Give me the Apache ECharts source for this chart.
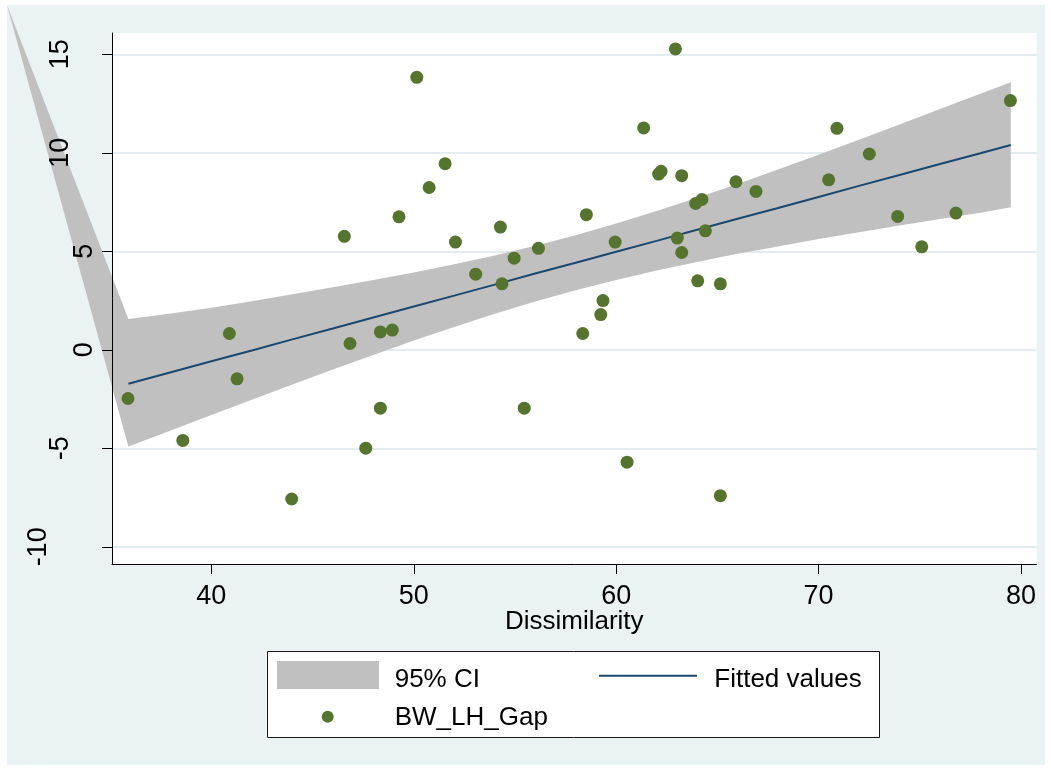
<!DOCTYPE html>
<html>
<head>
<meta charset="utf-8">
<script src="https://cdn.jsdelivr.net/npm/echarts@6.0.0/dist/echarts.min.js"></script>
<style>
  html, body { margin: 0; padding: 0; background: #fff; }
  #chart { width: 1051px; height: 770px; }
</style>
</head>
<body>
<div id="chart"></div>
<script>
// Observations: dissimilarity index vs. BW_LH_Gap
const dissimilarity = [
  50.15, 51.55, 50.76, 49.27, 46.57, 52.06, 54.28, 56.16, 54.96, 53.06,
  54.36, 62.93, 61.36, 70.91, 79.48, 72.51, 62.10, 62.22, 63.24, 58.53,
  59.95, 65.92, 66.91, 70.50, 63.93, 64.24, 63.02, 64.41, 63.24, 73.91,
  76.79, 75.10, 64.03, 65.15, 35.88, 40.89, 41.27, 38.59, 43.97, 46.85,
  48.35, 48.94, 48.35, 47.63, 55.46, 59.35, 59.24, 58.35, 60.54, 65.15
];
const bwLhGap = [
  13.83, 9.45, 8.24, 6.75, 5.76, 5.47, 6.23, 5.15, 4.65, 3.84,
  3.35, 15.27, 11.26, 11.24, 12.65, 9.94, 8.92, 9.06, 8.84, 6.86,
  5.47, 8.53, 8.04, 8.63, 7.43, 7.63, 5.67, 6.04, 4.94, 6.77,
  6.94, 5.23, 3.50, 3.35, -2.47, 0.83, -1.47, -4.60, -7.57, 0.32,
  0.91, 1.00, -2.96, -4.99, -2.96, 2.50, 1.79, 0.83, -5.70, -7.40
];

// Linear fit and its 95% confidence band, evaluated along the x range
const fitX = [35.9, 38, 40, 42, 44, 46, 48, 50, 52, 54, 56, 58, 60, 62, 64, 66, 68, 70, 72, 74, 76, 78, 79.5];
const fitted = [-1.72, -1.14, -0.58, -0.03, 0.53, 1.08, 1.64, 2.20, 2.75, 3.31, 3.87, 4.42, 4.98, 5.53, 6.09, 6.65, 7.20, 7.76, 8.32, 8.87, 9.43, 9.98, 10.40];
const ciUpper = [1.56, 1.84, 2.14, 2.47, 2.82, 3.17, 3.54, 3.93, 4.34, 4.79, 5.28, 5.82, 6.41, 7.04, 7.72, 8.42, 9.15, 9.90, 10.66, 11.44, 12.22, 13.00, 13.58];
const ciLower = [-4.91, -4.09, -3.31, -2.53, -1.76, -1.00, -0.26, 0.47, 1.16, 1.83, 2.45, 3.02, 3.55, 4.02, 4.46, 4.87, 5.25, 5.62, 5.97, 6.31, 6.64, 6.96, 7.23];
// stray vertex of the shaded band polygon, out past the left end of the range
const bandApex = [29.9, 17.5];

const xTicks = [40, 50, 60, 70, 80];
const yTicks = [-10, -5, 0, 5, 10, 15];

const FONT = "'Liberation Sans', Arial, Helvetica, sans-serif";
const FS = 26;      // axis title and legend text
const FS_TICK = 27; // tick labels
const X_MIN = 35.09, X_MAX = 80.77, Y_MIN = -10.87, Y_MAX = 16.08;

const scatterData = dissimilarity.map((x, i) => [x, bwLhGap[i]]);
const fitData = fitX.map((x, i) => [x, fitted[i]]);

// y labels are placed in three groups by string length
function labelsOfLength(n) {
  return yTicks.filter(v => String(v).length === n);
}
function labelAxis(n, margin, withLine) {
  return {
    type: 'value', position: 'left', offset: 0, min: Y_MIN, max: Y_MAX, z: 6,
    axisLine: { show: withLine, lineStyle: { color: '#000', width: 1 } },
    axisTick: { show: withLine, length: 10, lineStyle: { color: '#000', width: 1 }, customValues: yTicks },
    axisLabel: {
      show: true, rotate: 90, margin: margin, customValues: labelsOfLength(n),
      color: '#000', fontSize: FS_TICK, fontFamily: FONT
    },
    splitLine: { show: false }
  };
}

// legend keys and legend texts are laid out separately inside the key box
function legendKey(name, icon, left, top, w, h, color) {
  const item = { name: name, icon: icon };
  const opt = {
    data: [item], left: left, top: top, padding: 0, itemWidth: w, itemHeight: h,
    selectedMode: false, z: 5, formatter: function () { return ''; },
    textStyle: { fontSize: 1, lineHeight: 1 }
  };
  if (color) opt.itemStyle = { color: color };
  return opt;
}
function legendText(name, left, top) {
  return {
    data: [{ name: name, icon: 'none' }], left: left, top: top, padding: 0,
    itemWidth: 1, itemHeight: 2, selectedMode: false, z: 5,
    textStyle: { color: '#000', fontSize: FS, fontFamily: FONT, lineHeight: 26 }
  };
}

const chart = echarts.init(document.getElementById('chart'), null, { renderer: 'canvas' });
chart.setOption({
  animation: false,
  backgroundColor: '#fff',
  graphic: {
    elements: [
      { type: 'rect', z: -10, silent: true,
        shape: { x: 7, y: 5, width: 1038, height: 760 },
        style: { fill: '#eaf2f3' } },
      { type: 'rect', z: 1, silent: true,
        shape: { x: 267.5, y: 651.5, width: 612, height: 86 },
        style: { fill: '#fff', stroke: '#1a1a1a', lineWidth: 1 } }
    ]
  },
  grid: {
    left: 112, top: 33, width: 924.5, height: 531,
    show: true, backgroundColor: '#fff', borderWidth: 0,
    containLabel: false, outerBoundsMode: 'none'
  },
  xAxis: {
    type: 'value', min: X_MIN, max: X_MAX, z: 6,
    axisLine: { show: true, onZero: false, lineStyle: { color: '#000', width: 1 } },
    axisTick: { show: true, length: 10, lineStyle: { color: '#000', width: 1 }, customValues: xTicks },
    axisLabel: { customValues: xTicks, margin: 19, color: '#000', fontSize: FS_TICK, fontFamily: FONT },
    splitLine: { show: false },
    name: 'Dissimilarity', nameLocation: 'middle', nameGap: 45, nameMoveOverlap: false,
    nameTextStyle: { color: '#000', fontSize: FS, fontFamily: FONT }
  },
  yAxis: [
    {
      // grid lines only, kept beneath the shaded band
      type: 'value', position: 'left', min: Y_MIN, max: Y_MAX, z: 0,
      axisLine: { show: false },
      axisTick: { show: false, customValues: yTicks },
      axisLabel: { show: false, customValues: yTicks },
      splitLine: { show: true, lineStyle: { color: '#e3edf0', width: 2 } }
    },
    labelAxis(1, 14, true),
    labelAxis(2, 38, false),
    labelAxis(3, 60, false)
  ],
  legend: [
    legendKey('95% CI', 'rect', 277, 661, 102, 28),
    legendKey('Fitted values', 'path://M0,0H100V2H0Z', 599, 674.7, 98, 2, '#1a476f'),
    legendKey('BW_LH_Gap', 'circle', 321.7, 710.7, 12, 12),
    legendText('95% CI', 388.7, 666.5),
    legendText('Fitted values', 708.3, 666.5),
    legendText('BW_LH_Gap', 388.7, 705)
  ],
  series: [
    {
      name: '95% CI', type: 'custom', yAxisIndex: 0, z: 1, clip: false, silent: true,
      itemStyle: { color: '#c0c0c0' },
      data: [[fitX[0], ciUpper[0]]],
      renderItem: function (params, api) {
        if (params.dataIndex !== 0) return null;
        const pts = [];
        for (let i = fitX.length - 1; i >= 0; i--) pts.push(api.coord([fitX[i], ciUpper[i]]));
        pts.push(api.coord(bandApex));
        for (let i = 0; i < fitX.length; i++) pts.push(api.coord([fitX[i], ciLower[i]]));
        return { type: 'polygon', shape: { points: pts }, style: { fill: '#c0c0c0' } };
      }
    },
    {
      name: 'Fitted values', type: 'line', yAxisIndex: 0, z: 3,
      symbol: 'none', data: fitData, silent: true,
      lineStyle: { color: '#1a476f', width: 2 }, itemStyle: { color: '#1a476f' }
    },
    {
      name: 'BW_LH_Gap', type: 'scatter', yAxisIndex: 0, z: 4,
      symbol: 'circle', symbolSize: 13, data: scatterData,
      itemStyle: { color: '#55752f', opacity: 1 }
    }
  ]
});
</script>
</body>
</html>
